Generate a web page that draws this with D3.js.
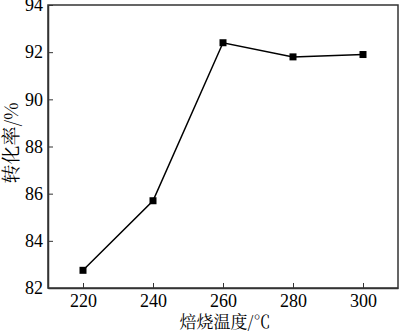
<!DOCTYPE html>
<html lang="zh">
<head>
<meta charset="utf-8">
<script src="https://cdn.jsdelivr.net/npm/d3@7"></script>
<style>
  body { margin: 0; background: #fff; }
  .serif text { font-family: "Liberation Serif", "Times New Roman", serif; }
</style>
</head>
<body>
<svg id="chart" width="400" height="331"></svg>
<script>
var temps = [220, 240, 260, 280, 300];
var rates = [82.75, 85.7, 92.4, 91.8, 91.9];
var xTicks = [220, 240, 260, 280, 300];
var yTicks = [82, 84, 86, 88, 90, 92, 94];

var margin = {top: 5, right: 2, bottom: 43, left: 48},
    width = 400 - margin.left - margin.right,
    height = 331 - margin.top - margin.bottom;

var svg = d3.select("#chart")
    .append("g")
    .attr("transform", "translate(" + margin.left + "," + margin.top + ")");

var x = d3.scaleLinear().domain([210, 310]).range([0, width]);
var y = d3.scaleLinear().domain([82, 94]).range([height, 0]);

// frame
svg.append("rect")
    .attr("width", width)
    .attr("height", height)
    .attr("fill", "none")
    .attr("stroke", "#333")
    .attr("stroke-width", 1.5);

// x axis (ticks inward)
var xAxis = svg.append("g")
    .attr("class", "serif")
    .attr("transform", "translate(0," + height + ")")
    .call(d3.axisBottom(x).tickValues(xTicks).tickSizeInner(-5).tickSizeOuter(0).tickPadding(6));
xAxis.attr("font-family", null);
xAxis.select(".domain").attr("stroke", "#333").attr("stroke-width", 1.5);
xAxis.selectAll(".tick line").attr("stroke", "#333");
xAxis.selectAll("text").style("font-size", "18px").attr("fill", "#000");

// y axis
var yAxis = svg.append("g")
    .attr("class", "serif")
    .call(d3.axisLeft(y).tickValues(yTicks).tickSizeInner(-5).tickSizeOuter(0).tickPadding(5));
yAxis.attr("font-family", null);
yAxis.select(".domain").attr("stroke", "#333").attr("stroke-width", 1.5);
yAxis.selectAll(".tick line").attr("stroke", "#333");
yAxis.selectAll("text").style("font-size", "18px").attr("fill", "#000");

// line
var data = temps.map(function(t, i) { return {t: t, v: rates[i]}; });
svg.append("path")
    .datum(data)
    .attr("fill", "none")
    .attr("stroke", "#000")
    .attr("stroke-width", 1.5)
    .attr("d", d3.line()
        .x(function(d) { return x(d.t); })
        .y(function(d) { return y(d.v); }));

svg.selectAll(".pt")
    .data(data)
    .enter().append("rect")
    .attr("class", "pt")
    .attr("x", function(d) { return x(d.t) - 3.5; })
    .attr("y", function(d) { return y(d.v) - 3.5; })
    .attr("width", 7)
    .attr("height", 7)
    .attr("fill", "#000");

// axis titles
svg.append("text")
    .attr("x", width / 2 + 2)
    .attr("y", height + 40)
    .attr("text-anchor", "middle")
    .style("font-family", "'Noto Serif CJK SC', 'Noto Sans CJK SC', serif")
    .style("font-size", "17px")
    .text("焙烧温度/℃");

svg.append("text")
    .attr("transform", "translate(" + (-30) + "," + (138) + ") rotate(-90)")
    .attr("text-anchor", "middle")
    .style("font-family", "'Noto Serif CJK SC', 'Noto Sans CJK SC', serif")
    .style("font-size", "19px")
    .text("转化率/%");
</script>
</body>
</html>
